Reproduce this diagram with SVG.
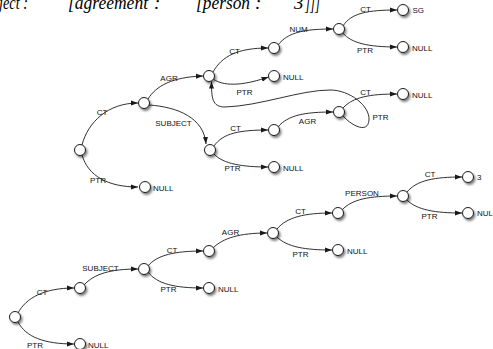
<svg xmlns="http://www.w3.org/2000/svg" width="493" height="349" viewBox="0 0 493 349">
<defs>
<style>
.e{fill:none;stroke:#1a1a1a;stroke-width:0.9;marker-end:url(#ah)}
.n{fill:#fff;stroke:#1a1a1a;stroke-width:1;filter:url(#sh)}
.l{font-family:"Liberation Sans",Arial,sans-serif;font-size:8px;fill:#111}
.c{text-anchor:middle}
.t{font-family:"Liberation Serif","Times New Roman",serif;font-style:italic;font-size:19px;fill:#000}
</style>
<marker id="ah" markerUnits="userSpaceOnUse" markerWidth="7" markerHeight="6" refX="7" refY="3" orient="auto" viewBox="0 0 7 6"><path d="M0,0.5 L7,3 L0,5.5z" fill="#1a1a1a"/></marker>
<filter id="sh" x="-60%" y="-60%" width="240%" height="240%"><feDropShadow dx="1.5" dy="2" stdDeviation="1.3" flood-color="#000" flood-opacity="0.5"/></filter>
</defs>
<rect width="493" height="349" fill="#fff"/>
<g id="header">
<text class="t" x="-1" y="8.5" textLength="29" lengthAdjust="spacingAndGlyphs">ject :</text>
<text class="t" x="68" y="8.5" textLength="80" lengthAdjust="spacingAndGlyphs">[agreement</text>
<text class="t" x="154" y="8.5">:</text>
<text class="t" x="196" y="8.5" textLength="54" lengthAdjust="spacingAndGlyphs">[person</text>
<text class="t" x="255" y="8.5">:</text>
<text class="t" x="294" y="8.5">3</text>
<text class="t" x="305" y="10" font-size="13" textLength="15" lengthAdjust="spacingAndGlyphs">]]]</text>
</g>
<g id="connectors">
<path class="e" d="M82,145 C88,122 108,103 138,103"/>
<path class="e" d="M82,155 C88,176 108,187 138,187"/>
<path class="e" d="M148,99 C156,86 172,77 203,76"/>
<path class="e" d="M149,105 C178,107 204,118 206,144"/>
<path class="e" d="M213,72 C222,56 238,48 268,48"/>
<path class="e" d="M213,79 C226,88 248,84 268.5,77"/>
<path class="e" d="M278,45 C288,32 305,29 333,29"/>
<path class="e" d="M343,26 C351,13 368,10 397,10"/>
<path class="e" d="M343,33 C351,43 368,47 397,47"/>
<path class="e" d="M214,146 C223,133 240,130 268,130"/>
<path class="e" d="M214,154 C223,164 243,167 268,167"/>
<path class="e" d="M278,127 C288,115 305,112 333,112"/>
<path class="e" d="M343,108 C353,97 370,94 397,94"/>
<path class="e" d="M343,116 C352,126 368,134 369,120 C370,106 350,90 330,90 C300,90 260,106 225,107 C212,107 211.5,98 211.5,81.5"/>
<path class="e" d="M18,313 C26,298 44,288 74,288"/>
<path class="e" d="M18,322 C26,337 44,344 74,344"/>
<path class="e" d="M84,285 C94,274 110,269 138,269"/>
<path class="e" d="M148,266 C157,255 175,251 203,251"/>
<path class="e" d="M148,272 C157,284 175,288 203,288"/>
<path class="e" d="M213,248 C223,238 240,233 267,233"/>
<path class="e" d="M277,229 C287,217 305,213 332,213"/>
<path class="e" d="M277,237 C287,247 305,250 332,250"/>
<path class="e" d="M342,210 C352,199 370,196 397,196"/>
<path class="e" d="M407,192 C417,180 435,177 462,177"/>
<path class="e" d="M407,200 C417,210 435,213 462,213"/>
<g class="l c">
<text x="102" y="115">CT</text>
<text x="98" y="183">PTR</text>
<text x="169" y="81">AGR</text>
<text x="173.5" y="126">SUBJECT</text>
<text x="234.5" y="54">CT</text>
<text x="244.5" y="94.5">PTR</text>
<text x="298.5" y="32">NUM</text>
<text x="365.5" y="12">CT</text>
<text x="365" y="53">PTR</text>
<text x="235.5" y="131">CT</text>
<text x="232.5" y="171">PTR</text>
<text x="307.5" y="124">AGR</text>
<text x="365.5" y="95">CT</text>
<text x="380.5" y="119.5">PTR</text>
<text x="42" y="295">CT</text>
<text x="35" y="348">PTR</text>
<text x="100.5" y="270.5">SUBJECT</text>
<text x="172" y="252.5">CT</text>
<text x="168.5" y="292">PTR</text>
<text x="230.5" y="235">AGR</text>
<text x="300.5" y="214">CT</text>
<text x="300.5" y="257">PTR</text>
<text x="362" y="196">PERSON</text>
<text x="430" y="177">CT</text>
<text x="429.5" y="219">PTR</text>
</g>
</g>
<g id="n0"><circle class="n" cx="80" cy="150" r="5.5"/></g>
<g id="n1"><circle class="n" cx="144" cy="103" r="5.5"/></g>
<g id="n1null"><circle class="n" cx="145" cy="187" r="5.5"/><text class="l" x="153" y="190.5">NULL</text></g>
<g id="n2"><circle class="n" cx="209" cy="76" r="5.5"/></g>
<g id="n3"><circle class="n" cx="210" cy="150" r="5.5"/></g>
<g id="n4"><circle class="n" cx="274" cy="48" r="5.5"/></g>
<g id="n2null"><circle class="n" cx="274" cy="76" r="5.5"/><text class="l" x="283" y="79.5">NULL</text></g>
<g id="n5"><circle class="n" cx="339" cy="29" r="5.5"/></g>
<g id="nsg"><circle class="n" cx="403" cy="10" r="5.5"/><text class="l" x="412.5" y="13">SG</text></g>
<g id="n5null"><circle class="n" cx="403" cy="47" r="5.5"/><text class="l" x="412" y="50.5">NULL</text></g>
<g id="n6"><circle class="n" cx="274" cy="130" r="5.5"/></g>
<g id="n3null"><circle class="n" cx="274" cy="167" r="5.5"/><text class="l" x="283" y="170.5">NULL</text></g>
<g id="n7"><circle class="n" cx="339" cy="112" r="5.5"/></g>
<g id="n7null"><circle class="n" cx="403" cy="94" r="5.5"/><text class="l" x="412" y="97.5">NULL</text></g>
<g id="b0"><circle class="n" cx="15" cy="317" r="5.5"/></g>
<g id="b1"><circle class="n" cx="80" cy="288" r="5.5"/></g>
<g id="b0null"><circle class="n" cx="80" cy="344" r="5.5"/><text class="l" x="88" y="347.5">NULL</text></g>
<g id="b2"><circle class="n" cx="144" cy="269" r="5.5"/></g>
<g id="b3"><circle class="n" cx="209" cy="251" r="5.5"/></g>
<g id="b2null"><circle class="n" cx="209" cy="288" r="5.5"/><text class="l" x="218" y="291.5">NULL</text></g>
<g id="b4"><circle class="n" cx="273" cy="233" r="5.5"/></g>
<g id="b5"><circle class="n" cx="338" cy="213" r="5.5"/></g>
<g id="b4null"><circle class="n" cx="338" cy="250" r="5.5"/><text class="l" x="347" y="253.5">NULL</text></g>
<g id="b6"><circle class="n" cx="403" cy="196" r="5.5"/></g>
<g id="b3val"><circle class="n" cx="468" cy="177" r="5.5"/><text class="l" x="477" y="180">3</text></g>
<g id="b6null"><circle class="n" cx="468" cy="213" r="5.5"/><text class="l" x="477" y="216">NUL</text></g>
</svg>
